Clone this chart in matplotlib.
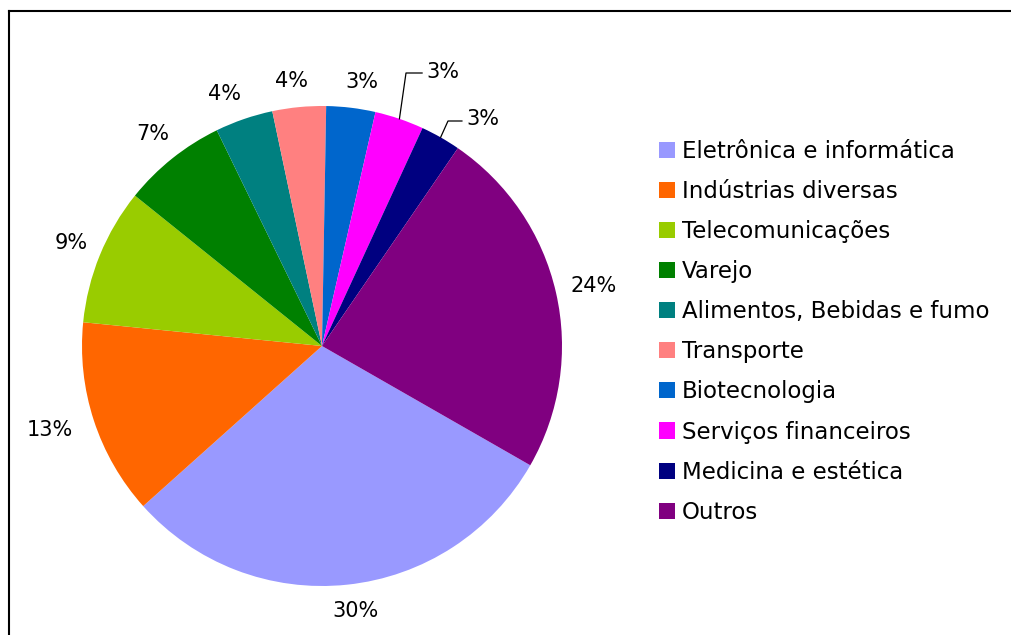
import numpy as np
import matplotlib
matplotlib.use("Agg")
import matplotlib.pyplot as plt
from matplotlib.lines import Line2D

plt.rcParams['font.family'] = ['DejaVu Sans']

setores = ["Eletrônica e informática", "Indústrias diversas", "Telecomunicações",
           "Varejo", "Alimentos, Bebidas e fumo", "Transporte", "Biotecnologia",
           "Serviços financeiros", "Medicina e estética", "Outros"]
valores = [30.1, 13.2, 9.2, 7.0, 3.9, 3.6, 3.3, 3.3, 2.7, 23.7]
cores = ["#9999ff", "#ff6600", "#99cc00", "#008000", "#008080",
         "#ff8080", "#0066cc", "#ff00ff", "#000080", "#800080"]

W, H = 1012, 635
fig = plt.figure(figsize=(W / 100, H / 100), dpi=100)

# pie centre (322, 346) px, radius 240 px
cx, cy, r = 322, 346, 240
ax = fig.add_axes([(cx - r) / W, (H - cy - r) / H, 2 * r / W, 2 * r / H])

wedges, textos, pcts = ax.pie(valores, colors=cores, startangle=-29.8,
                              counterclock=False, radius=1.0,
                              autopct=lambda p: f"{p:.0f}%", pctdistance=1.13,
                              wedgeprops=dict(linewidth=0),
                              textprops=dict(fontsize=15, color="black"))
ax.set_xlim(-1, 1)
ax.set_ylim(-1, 1)
ax.set_aspect("equal")
ax.axis("off")

# nudge a few outer labels the way the original layout has them
for i, dx, dy in [(0, 0.02, 0.02), (1, -0.06, 0.0), (4, -0.04, -0.02),
                  (5, -0.02, -0.02), (6, 0.03, -0.02), (9, 0.03, 0.0)]:
    x, y = pcts[i].get_position()
    pcts[i].set_position((x + dx, y + dy))

# small slices with leader lines (Serviços, Medicina)
chamadas = {7: ((0.35, 1.1375), (0.417, 1.1375), (0.435, 1.142)),
            8: ((0.525, 0.9375), (0.583, 0.9375), (0.60, 0.946))}
for i, (cotovelo, fim, txt) in chamadas.items():
    w = wedges[i]
    ang = np.deg2rad((w.theta1 + w.theta2) / 2)
    x0, y0 = np.cos(ang), np.sin(ang)
    ax.plot([x0, cotovelo[0], fim[0]], [y0, cotovelo[1], fim[1]],
            color="black", lw=0.9, clip_on=False)
    pcts[i].set_position(txt)
    pcts[i].set_ha("left")
    pcts[i].set_va("center")

leg = fig.legend(wedges, setores, loc="upper left",
                 bbox_to_anchor=(659 / W, 1 - 140 / H), frameon=False,
                 fontsize=16.5, handlelength=0.7, handleheight=0.7,
                 handletextpad=0.3, labelspacing=0.745, borderpad=0,
                 borderaxespad=0)

# chart frame (only left and top edges visible)
fig.add_artist(Line2D([8.5 / W, 8.5 / W], [0, 1 - 10.5 / H],
                      transform=fig.transFigure, color="black", lw=1.5))
fig.add_artist(Line2D([8.5 / W, 1], [1 - 10.5 / H, 1 - 10.5 / H],
                      transform=fig.transFigure, color="black", lw=1.5))

fig.savefig("out.png", dpi=100)
